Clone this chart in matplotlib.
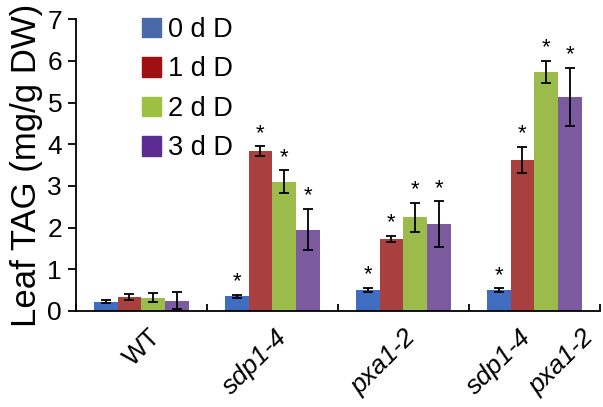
import matplotlib
matplotlib.use("Agg")
import matplotlib.pyplot as plt
import numpy as np
from matplotlib.patches import Patch

plt.rcParams['font.family'] = ['Liberation Sans', 'DejaVu Sans']

# dados
genotipos = ['WT', 'sdp1-4', 'pxa1-2', 'sdp1-4 pxa1-2']
tratamentos = ['0 d D', '1 d D', '2 d D', '3 d D']
tag_0d = [0.22, 0.35, 0.50, 0.50]
tag_1d = [0.33, 3.83, 1.73, 3.63]
tag_2d = [0.32, 3.10, 2.25, 5.73]
tag_3d = [0.25, 1.95, 2.08, 5.13]
err_0d = [0.04, 0.04, 0.05, 0.04]
err_1d = [0.07, 0.12, 0.07, 0.31]
err_2d = [0.10, 0.27, 0.35, 0.27]
err_3d = [0.20, 0.50, 0.55, 0.70]
# asterisco = diferenca significativa
sig_0d = [False, True, True, True]
sig_1d = [False, True, True, True]
sig_2d = [False, True, True, True]
sig_3d = [False, True, True, True]

valores = [tag_0d, tag_1d, tag_2d, tag_3d]
erros = [err_0d, err_1d, err_2d, err_3d]
sigs = [sig_0d, sig_1d, sig_2d, sig_3d]
cores_barra = ['#3F6EC0', '#A8403F', '#9BBB4A', '#7B5A9E']
cores_legenda = ['#4A69A8', '#A01012', '#9DC040', '#5A2C94']

fig = plt.figure(figsize=(6.03, 4.07), dpi=100)
ax = fig.add_axes([0.126, 0.236, 0.869, 0.717])

x = np.arange(len(genotipos))
largura = 0.183
for i in range(4):
    pos = x + (i - 1.5) * largura
    ax.bar(pos, valores[i], largura, color=cores_barra[i], zorder=2)
    ax.errorbar(pos, valores[i], yerr=erros[i], fmt='none', ecolor='black',
                elinewidth=1.3, capsize=3.5, capthick=1.3, zorder=3)
    for j in range(len(genotipos)):
        if sigs[i][j]:
            ax.text(pos[j], valores[i][j] + erros[i][j] + 0.06, '*',
                    ha='center', va='bottom', fontsize=16)

ax.set_xlim(-0.5, 3.5)
ax.set_ylim(0, 7)
ax.set_yticks(range(0, 8))
ax.tick_params(axis='y', direction='out', length=6, width=1.3, labelsize=19, pad=4)
ax.set_ylabel('Leaf TAG (mg/g DW)', fontsize=25, labelpad=3)

# ticks nas divisoes dos grupos, rotulos como minor ticks
ax.set_xticks(np.arange(-0.5, 4.0, 1.0))
ax.set_xticklabels([])
ax.tick_params(axis='x', which='major', direction='in', length=5, width=1.3)
ax.set_xticks([0.05, 1.02, 2.0, 2.88, 3.36], minor=True)
ax.set_xticklabels(['WT', 'sdp1-4', 'pxa1-2', 'sdp1-4', 'pxa1-2'], minor=True,
                   rotation=45, ha='right', rotation_mode='anchor', fontsize=19)
ax.tick_params(axis='x', which='minor', length=0, pad=10)
for k, lab in enumerate(ax.get_xticklabels(minor=True)):
    if k > 0:
        lab.set_style('italic')

for s in ['top', 'right']:
    ax.spines[s].set_visible(False)
for s in ['left', 'bottom']:
    ax.spines[s].set_linewidth(1.3)

handles = [Patch(color=c) for c in cores_legenda]
ax.legend(handles, tratamentos, loc='upper left', bbox_to_anchor=(0.105, 1.045),
          frameon=False, fontsize=19.5, handlelength=0.72, handleheight=0.72,
          handletextpad=0.25, labelspacing=0.5, borderaxespad=0)

plt.savefig('out.png', dpi=100)
